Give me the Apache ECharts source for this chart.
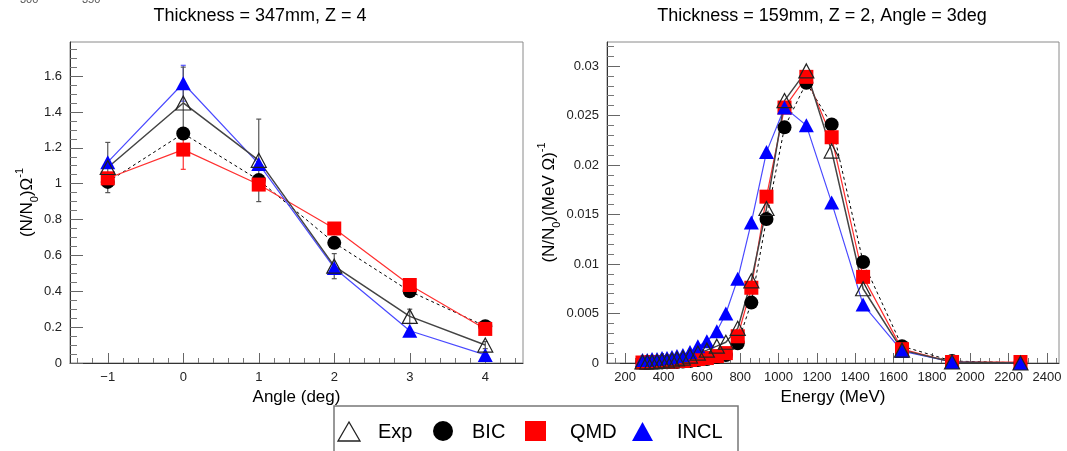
<!DOCTYPE html>
<html>
<head>
<meta charset="utf-8">
<script src="https://cdn.jsdelivr.net/npm/echarts@6/dist/echarts.min.js"></script>
<style>
  html, body { margin: 0; padding: 0; background: #fff; }
  #chart { width: 1067px; height: 451px; }
</style>
</head>
<body>
<div id="chart"></div>
<script>
// ---- Left panel: yield vs angle ----
const angles = [-1, 0, 1, 2, 3, 4];
const expAngle = [1.09, 1.45, 1.13, 0.54, 0.26, 0.10];
const expAngleErr = [0.14, 0.20, 0.23, 0.07, 0.04, 0.02];
const bicAngle = [1.01, 1.28, 1.02, 0.67, 0.40, 0.205];
const qmdAngle = [1.03, 1.19, 0.995, 0.75, 0.435, 0.19];
const qmdAngleErr = [0, 0.11, 0, 0, 0, 0];
const inclAngle = [1.12, 1.56, 1.11, 0.53, 0.18, 0.045];
const inclAngleErr = [0, 0.10, 0, 0, 0, 0];

// ---- Right panel: energy spectrum ----
const energies = [290, 315, 340, 366, 392, 418, 444, 470, 501, 538, 579, 626, 678, 725, 787, 858, 937, 1031, 1145, 1277, 1441, 1644, 1905, 2262];
const expEnergy = [0.0001, 0.0001, 0.0001, 0.00015, 0.0002, 0.0002, 0.0003, 0.0004, 0.0005, 0.0007, 0.0010, 0.0013, 0.0017, 0.0021, 0.0035, 0.0083, 0.0156, 0.0265, 0.0295, 0.0214, 0.0075, 0.0013, 0.0001, 0.0000];
const bicEnergy = [0.00003, 0.00003, 0.00005, 0.00005, 0.00006, 0.00008, 0.0001, 0.0001, 0.00015, 0.0002, 0.0003, 0.0004, 0.0006, 0.0008, 0.0020, 0.0061, 0.01455, 0.0238, 0.0283, 0.0241, 0.0102, 0.0017, 0.0002, 0.00002];
const qmdEnergy = [0.00005, 0.00005, 0.0001, 0.0001, 0.0001, 0.0001, 0.00015, 0.0002, 0.0002, 0.0003, 0.0004, 0.0005, 0.0007, 0.0010, 0.0027, 0.0076, 0.0168, 0.0258, 0.0289, 0.0228, 0.0087, 0.0014, 0.0001, 0.0001];
const inclEnergy = [0.0003, 0.0003, 0.0004, 0.0004, 0.0005, 0.0005, 0.0006, 0.0007, 0.0008, 0.0011, 0.0017, 0.0022, 0.0032, 0.0050, 0.0085, 0.0142, 0.0213, 0.0258, 0.0240, 0.0162, 0.0059, 0.0012, 0.0001, 0.0000];

// ---- Axis ranges and tick labels ----
const angleRange = [-1.5, 4.5];
const angleYRange = [0, 1.79];
const energyRange = [105, 2463];
const energyYRange = [0, 0.03242];
const angleTicks = [-1, 0, 1, 2, 3, 4];
const angleYTicks = [0, 0.2, 0.4, 0.6, 0.8, 1, 1.2, 1.4, 1.6];
const energyTicks = [200, 400, 600, 800, 1000, 1200, 1400, 1600, 1800, 2000, 2200, 2400];
const energyYTicks = [0, 0.005, 0.01, 0.015, 0.02, 0.025, 0.03];

const FONT = "'Liberation Sans', Arial, Helvetica, sans-serif";

// secondary tick positions strictly inside the range, skipping the primary ones
function minorTicks(range, step, majorStep) {
  const ratio = Math.round(majorStep / step);
  const out = [];
  const i0 = Math.ceil(range[0] / step - 1e-9);
  const i1 = Math.floor(range[1] / step + 1e-9);
  for (let i = i0; i <= i1; i++) {
    if (i % ratio === 0) continue;
    const v = +(i * step).toFixed(6);
    if (v > range[0] && v < range[1]) out.push(v);
  }
  return out;
}

const pairs = (xs, ys) => xs.map((x, i) => [x, ys[i]]);
const triples = (xs, ys, es) => xs.map((x, i) => [x, ys[i], es[i]]).filter(d => d[2] > 0);

function majorAxis(range, ticks, fmt, tickLen, extra) {
  return Object.assign({
    type: 'value', min: range[0], max: range[1],
    axisLine: { show: true, onZero: false, lineStyle: { color: '#333', width: 1 } },
    axisTick: { show: true, inside: true, length: tickLen, customValues: ticks, lineStyle: { color: '#666', width: 1 } },
    axisLabel: { show: true, customValues: ticks, formatter: fmt, color: '#222', fontSize: 13, fontFamily: FONT },
    splitLine: { show: false }
  }, extra);
}
function minorAxis(range, ticks, tickLen, extra) {
  return Object.assign({
    type: 'value', min: range[0], max: range[1],
    axisLine: { show: false, onZero: false },
    axisTick: { show: true, inside: true, length: tickLen, customValues: ticks, lineStyle: { color: '#777', width: 1 } },
    axisLabel: { show: false },
    splitLine: { show: false }
  }, extra);
}

const xNameStyle = { fontSize: 17, color: '#000', fontFamily: FONT };
const yNameRich = {
  t: { fontSize: 17, color: '#000', fontFamily: FONT, lineHeight: 26 },
  s: { fontSize: 11, color: '#000', fontFamily: FONT, lineHeight: 12, verticalAlign: 'bottom' },
  p: { fontSize: 11, color: '#000', fontFamily: FONT, lineHeight: 12, verticalAlign: 'top' }
};

function errorBars(data, xi, yi, color) {
  return {
    type: 'custom', xAxisIndex: xi, yAxisIndex: yi, data: data, silent: true,
    renderItem: function (params, api) {
      const x = api.value(0), y = api.value(1), e = api.value(2);
      const top = api.coord([x, y + e]);
      const bot = api.coord([x, y - e]);
      const st = { stroke: color, lineWidth: 1.2 };
      return {
        type: 'group',
        children: [
          { type: 'line', shape: { x1: top[0], y1: top[1], x2: bot[0], y2: bot[1] }, style: st },
          { type: 'line', shape: { x1: top[0] - 2.5, y1: top[1], x2: top[0] + 2.5, y2: top[1] }, style: st },
          { type: 'line', shape: { x1: bot[0] - 2.5, y1: bot[1], x2: bot[0] + 2.5, y2: bot[1] }, style: st }
        ]
      };
    }
  };
}

function lineSeries(name, data, xi, yi, opts) {
  return Object.assign({
    type: 'line', name: name, data: data, xAxisIndex: xi, yAxisIndex: yi,
    showSymbol: true, showAllSymbol: true, animation: false, silent: true,
    emphasis: { disabled: true }
  }, opts);
}

const expStyle = {
  symbol: 'triangle', symbolSize: [15, 14],
  itemStyle: { color: 'rgba(255,255,255,0)', borderColor: '#222', borderWidth: 1.2 },
  lineStyle: { color: '#444', width: 1.5 }
};
const bicStyle = {
  symbol: 'circle', symbolSize: 14,
  itemStyle: { color: '#000' },
  lineStyle: { color: '#000', width: 1, type: [3, 3] }
};
const qmdStyle = {
  symbol: 'rect', symbolSize: 14,
  itemStyle: { color: '#ff0000' },
  lineStyle: { color: '#ff3030', width: 1.2 }
};
const inclStyle = {
  symbol: 'triangle', symbolSize: [15, 14],
  itemStyle: { color: '#0000ff' },
  lineStyle: { color: '#4a4aff', width: 1.2 }
};

const angleFmt = v => (v < 0 ? '\u2212' + Math.abs(v) : String(v));
const plainFmt = v => String(v);

const chart = echarts.init(document.getElementById('chart'), null, { renderer: 'canvas' });

const option = {
  animation: false,
  backgroundColor: '#fff',
  title: [
    { text: 'Thickness = 347mm, Z = 4', left: 260, top: 7, textAlign: 'center', padding: 0,
      textStyle: { fontSize: 18, fontWeight: 'normal', color: '#000', fontFamily: FONT } },
    { text: 'Thickness = 159mm, Z = 2, Angle = 3deg', left: 822, top: 7, textAlign: 'center', padding: 0,
      textStyle: { fontSize: 18, fontWeight: 'normal', color: '#000', fontFamily: FONT } }
  ],
  grid: [
    { left: 70, right: 544, top: 42, bottom: 88, show: true, borderColor: '#8a8a8a', borderWidth: 1, backgroundColor: 'transparent' },
    { left: 607, right: 8, top: 42, bottom: 88, show: true, borderColor: '#8a8a8a', borderWidth: 1, backgroundColor: 'transparent' }
  ],
  xAxis: [
    majorAxis(angleRange, angleTicks, angleFmt, 10, {
      gridIndex: 0, position: 'bottom',
      name: 'Angle (deg)', nameLocation: 'middle', nameGap: 17, nameTextStyle: xNameStyle
    }),
    minorAxis(angleRange, minorTicks(angleRange, 0.2, 1), 5, { gridIndex: 0, position: 'bottom' }),
    majorAxis(energyRange, energyTicks, plainFmt, 10, {
      gridIndex: 1, position: 'bottom',
      name: 'Energy (MeV)', nameLocation: 'middle', nameGap: 17, nameTextStyle: xNameStyle
    }),
    minorAxis(energyRange, minorTicks(energyRange, 50, 200), 5, { gridIndex: 1, position: 'bottom' })
  ],
  yAxis: [
    majorAxis(angleYRange, angleYTicks, plainFmt, 13, {
      gridIndex: 0, position: 'left',
      name: '{t|(N/N}{s|0}{t|)\u03A9}{p|-1}', nameLocation: 'middle', nameGap: 28,
      nameTextStyle: { rich: yNameRich }
    }),
    minorAxis(angleYRange, minorTicks(angleYRange, 0.05, 0.2), 7, { gridIndex: 0, position: 'left' }),
    majorAxis(energyYRange, energyYTicks, plainFmt, 13, {
      gridIndex: 1, position: 'left',
      name: '{t|(N/N}{s|0}{t|)(MeV \u03A9)}{p|-1}', nameLocation: 'middle', nameGap: 37,
      nameTextStyle: { rich: yNameRich }
    }),
    minorAxis(energyYRange, minorTicks(energyYRange, 0.001, 0.005), 7, { gridIndex: 1, position: 'left' })
  ],
  series: [
    // left panel
    errorBars(triples(angles, qmdAngle, qmdAngleErr), 0, 0, '#ff3030'),
    errorBars(triples(angles, inclAngle, inclAngleErr), 0, 0, '#5555ff'),
    errorBars(triples(angles, expAngle, expAngleErr), 0, 0, '#555'),
    lineSeries('BIC', pairs(angles, bicAngle), 0, 0, bicStyle),
    lineSeries('QMD', pairs(angles, qmdAngle), 0, 0, qmdStyle),
    lineSeries('INCL', pairs(angles, inclAngle), 0, 0, inclStyle),
    lineSeries('Exp', pairs(angles, expAngle), 0, 0, expStyle),
    // right panel
    lineSeries('BIC', pairs(energies, bicEnergy), 2, 2, bicStyle),
    lineSeries('QMD', pairs(energies, qmdEnergy), 2, 2, qmdStyle),
    lineSeries('INCL', pairs(energies, inclEnergy), 2, 2, inclStyle),
    lineSeries('Exp', pairs(energies, expEnergy), 2, 2, expStyle)
  ],
  graphic: [
    // clipped tick labels peeking in at the top edge
    { type: 'text', left: 20, top: -6, silent: true,
      style: { text: '300', fontSize: 11, fill: '#555', fontFamily: FONT } },
    { type: 'text', left: 82, top: -6, silent: true,
      style: { text: '350', fontSize: 11, fill: '#555', fontFamily: FONT } },
    // legend box
    { type: 'rect', silent: true, shape: { x: 334, y: 406, width: 404, height: 50 },
      style: { fill: '#fff', stroke: '#777', lineWidth: 1.5 } },
    { type: 'polygon', silent: true, shape: { points: [[338, 441], [360, 441], [349, 422]] },
      style: { fill: 'none', stroke: '#222', lineWidth: 1.3 } },
    { type: 'text', silent: true, x: 378, y: 432,
      style: { text: 'Exp', fontSize: 20, fill: '#000', fontFamily: FONT, verticalAlign: 'middle' } },
    { type: 'circle', silent: true, shape: { cx: 443, cy: 431, r: 10 }, style: { fill: '#000' } },
    { type: 'text', silent: true, x: 472, y: 432,
      style: { text: 'BIC', fontSize: 20, fill: '#000', fontFamily: FONT, verticalAlign: 'middle' } },
    { type: 'rect', silent: true, shape: { x: 525, y: 421, width: 21, height: 20 }, style: { fill: '#ff0000' } },
    { type: 'text', silent: true, x: 570, y: 432,
      style: { text: 'QMD', fontSize: 20, fill: '#000', fontFamily: FONT, verticalAlign: 'middle' } },
    { type: 'polygon', silent: true, shape: { points: [[632, 441], [653, 441], [642.5, 422]] },
      style: { fill: '#0000ff' } },
    { type: 'text', silent: true, x: 677, y: 432,
      style: { text: 'INCL', fontSize: 20, fill: '#000', fontFamily: FONT, verticalAlign: 'middle' } }
  ]
};

chart.setOption(option);
</script>
</body>
</html>
